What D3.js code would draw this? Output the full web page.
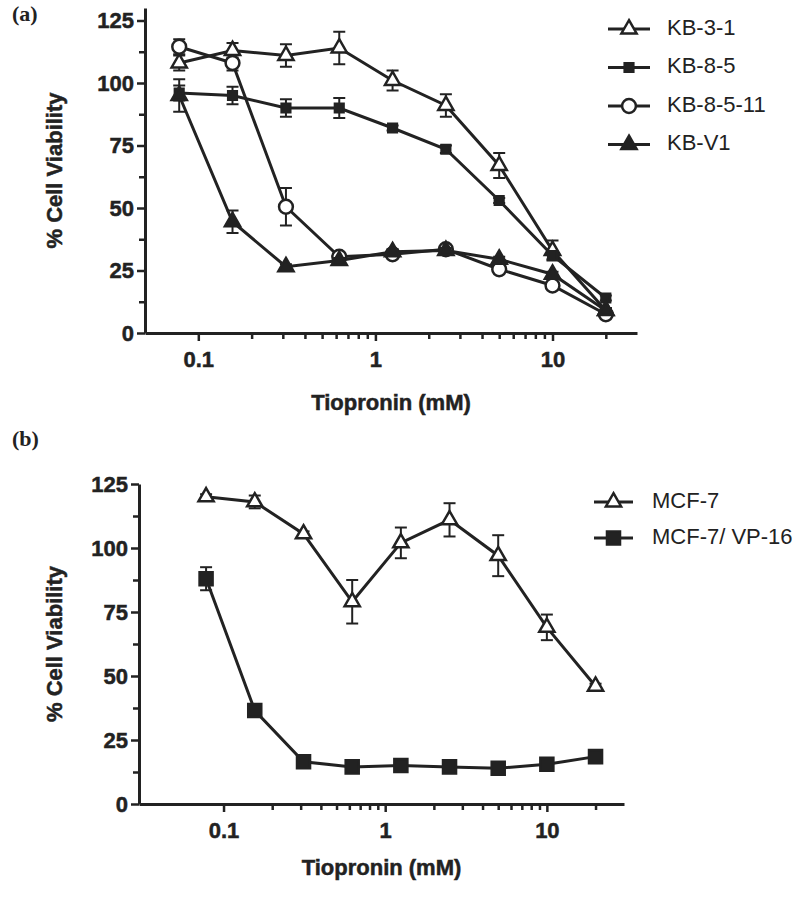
<!DOCTYPE html>
<html>
<head>
<meta charset="utf-8">
<script src="https://cdn.jsdelivr.net/npm/d3@7"></script>
<style>
  body { margin: 0; background: #fff; }
  svg { display: block; }
  .tick text { font-family: "Liberation Sans", Arial, sans-serif; font-weight: bold; font-size: 22px; fill: #222; stroke: #222; stroke-width: 0.5; }
</style>
</head>
<body>
<svg width="800" height="899"></svg>
<script>
// --- data ---
const conc = [0.078, 0.156, 0.3125, 0.625, 1.25, 2.5, 5, 10, 20];

// panel (a)
const kb31 = [108, 113, 111, 114, 101, 91, 67, 33, 9];
const kb31Err = [3, 3, 4.5, 6.5, 4, 4.5, 5, 4, 1];
const kb85 = [96, 95, 90, 90, 82, 73.5, 53, 31, 14];
const kb85Err = [3, 3.5, 3.5, 4, 1, 1.5, 1, 1.5, 1];
const kb8511 = [114.5, 108, 50.5, 30.5, 31.5, 33.5, 25.5, 19, 7.5];
const kb8511Err = [3, 3, 7.5, 1, 1, 1, 1, 1, 1];
const kbv1 = [95, 44.5, 26.5, 29, 32.5, 33, 29.5, 23.5, 9];
const kbv1Err = [6.5, 4.5, 1, 1, 1, 1, 1, 1, 1];

// panel (b)
const mcf7 = [120, 118, 105.5, 79, 102, 111, 97, 69, 46];
const mcf7Err = [1, 2.5, 1, 8.5, 6, 6.5, 8, 5, 1];
const mcf7vp = [88, 36.5, 16.5, 14.5, 15, 14.5, 14, 15.5, 18.5];
const mcf7vpErr = [4.5, 1, 1, 1, 1, 1, 1, 1, 2.5];

const yTicks = [0, 25, 50, 75, 100, 125];
const yMinor = [12.5, 37.5, 62.5, 87.5, 112.5];
const xTicks = [0.1, 1, 10];
const xMinor = [0.2, 0.3, 0.4, 0.5, 0.6, 0.7, 0.8, 0.9, 2, 3, 4, 5, 6, 7, 8, 9, 20];

const ink = "#222";
const svg = d3.select("svg");

const shapes = {
  openTri:  { type: d3.symbolTriangle, size: 100, fill: "#fff" },
  fillTri:  { type: d3.symbolTriangle, size: 100, fill: ink },
  openCirc: { type: d3.symbolCircle, size: 150, fill: "#fff" },
  smallSq:  { type: d3.symbolSquare, size: 75, fill: ink },
  bigSq:    { type: d3.symbolSquare, size: 170, fill: ink }
};

function marker(sel, shape) {
  const s = shapes[shape];
  sel.append("path")
    .attr("d", d3.symbol().type(s.type).size(s.size)())
    .attr("fill", s.fill)
    .attr("stroke", ink)
    .attr("stroke-width", 2.5);
}

function boldText(sel, size) {
  sel.style("font", `bold ${size}px 'Liberation Sans', Arial, sans-serif`)
    .attr("fill", ink).attr("stroke", ink).attr("stroke-width", 0.5);
}

function drawPanel(p) {
  const x = d3.scaleLog().domain(p.xDomain).range(p.xRange);
  const y = d3.scaleLinear().domain(p.yDomain).range(p.yRange);
  const g = svg.append("g");

  // axes
  g.append("g")
    .attr("transform", `translate(${p.xRange[0]},0)`)
    .call(d3.axisLeft(y).tickValues(yTicks).tickSize(8).tickSizeOuter(0).tickPadding(3));
  g.append("g")
    .attr("transform", `translate(${p.xRange[0]},0)`)
    .call(d3.axisLeft(y).tickValues(yMinor).tickSize(6).tickSizeOuter(0).tickFormat(""))
    .select(".domain").remove();
  g.append("g")
    .attr("transform", `translate(0,${p.yRange[0]})`)
    .call(d3.axisBottom(x).tickValues(xTicks).tickSize(8).tickSizeOuter(0).tickPadding(10)
      .tickFormat(d => d < 1 ? "0.1" : d3.format("d")(d)));
  g.append("g")
    .attr("transform", `translate(0,${p.yRange[0]})`)
    .call(d3.axisBottom(x).tickValues(xMinor).tickSize(6).tickSizeOuter(0).tickFormat(""))
    .select(".domain").remove();
  g.selectAll(".domain").attr("stroke", ink).attr("stroke-width", 3);
  g.selectAll(".tick line").attr("stroke", ink).attr("stroke-width", 2.5);

  // axis titles
  g.append("text")
    .attr("transform", `translate(${p.yTitleX},${(p.yRange[0] + p.yRange[1]) / 2}) rotate(-90)`)
    .attr("text-anchor", "middle")
    .attr("dominant-baseline", "middle")
    .call(boldText, 22)
    .text("% Cell Viability");
  g.append("text")
    .attr("x", (p.xRange[0] + p.xRange[1]) / 2)
    .attr("y", p.xTitleY)
    .attr("text-anchor", "middle")
    .attr("dominant-baseline", "middle")
    .call(boldText, 22)
    .text("Tiopronin (mM)");

  // panel letter
  g.append("text")
    .attr("x", 12).attr("y", p.letterY)
    .attr("dominant-baseline", "middle")
    .style("font", "bold 22px 'Liberation Serif', 'Times New Roman', serif")
    .attr("fill", ink)
    .text(p.letter);

  const line = d3.line().x(d => x(d[0])).y(d => y(d[1]));

  p.series.forEach(s => {
    const pts = conc.map((c, i) => [c, s.values[i], s.err[i]]);
    g.append("path")
      .attr("d", line(pts))
      .attr("fill", "none")
      .attr("stroke", ink)
      .attr("stroke-width", 3);
    const eb = g.append("g").attr("stroke", ink).attr("stroke-width", 2);
    pts.forEach(d => {
      const cx = x(d[0]);
      eb.append("line").attr("x1", cx).attr("x2", cx).attr("y1", y(d[1] - d[2])).attr("y2", y(d[1] + d[2]));
      eb.append("line").attr("x1", cx - 6).attr("x2", cx + 6).attr("y1", y(d[1] + d[2])).attr("y2", y(d[1] + d[2]));
      eb.append("line").attr("x1", cx - 6).attr("x2", cx + 6).attr("y1", y(d[1] - d[2])).attr("y2", y(d[1] - d[2]));
    });
    pts.forEach(d => {
      g.append("g").attr("transform", `translate(${x(d[0])},${y(d[1])})`).call(marker, s.shape);
    });
  });

  // legend
  p.series.forEach((s, i) => {
    const ly = p.legend.y0 + i * p.legend.dy;
    const lg = g.append("g");
    lg.append("line")
      .attr("x1", p.legend.x1).attr("x2", p.legend.x2)
      .attr("y1", ly).attr("y2", ly)
      .attr("stroke", ink).attr("stroke-width", 3);
    lg.append("g")
      .attr("transform", `translate(${(p.legend.x1 + p.legend.x2) / 2},${ly})`)
      .call(marker, s.shape);
    lg.append("text")
      .attr("x", p.legend.tx).attr("y", ly)
      .attr("dominant-baseline", "middle")
      .style("font", "22px 'Liberation Sans', Arial, sans-serif")
      .attr("fill", ink)
      .text(s.name);
  });
}

drawPanel({
  letter: "(a)", letterY: 16,
  xDomain: [0.05, 30], xRange: [145, 637],
  yDomain: [0, 130], yRange: [333, 8],
  yTitleX: 56, xTitleY: 404,
  series: [
    { name: "KB-3-1", values: kb31, err: kb31Err, shape: "openTri" },
    { name: "KB-8-5", values: kb85, err: kb85Err, shape: "smallSq" },
    { name: "KB-8-5-11", values: kb8511, err: kb8511Err, shape: "openCirc" },
    { name: "KB-V1", values: kbv1, err: kbv1Err, shape: "fillTri" }
  ],
  legend: { x1: 608, x2: 650, tx: 667, y0: 29, dy: 38.5 }
});

drawPanel({
  letter: "(b)", letterY: 441,
  xDomain: [0.03, 30], xRange: [139, 624],
  yDomain: [0, 125], yRange: [804, 484],
  yTitleX: 56, xTitleY: 869,
  series: [
    { name: "MCF-7", values: mcf7, err: mcf7Err, shape: "openTri" },
    { name: "MCF-7/ VP-16", values: mcf7vp, err: mcf7vpErr, shape: "bigSq" }
  ],
  legend: { x1: 594, x2: 633, tx: 652, y0: 502, dy: 36 }
});
</script>
</body>
</html>
